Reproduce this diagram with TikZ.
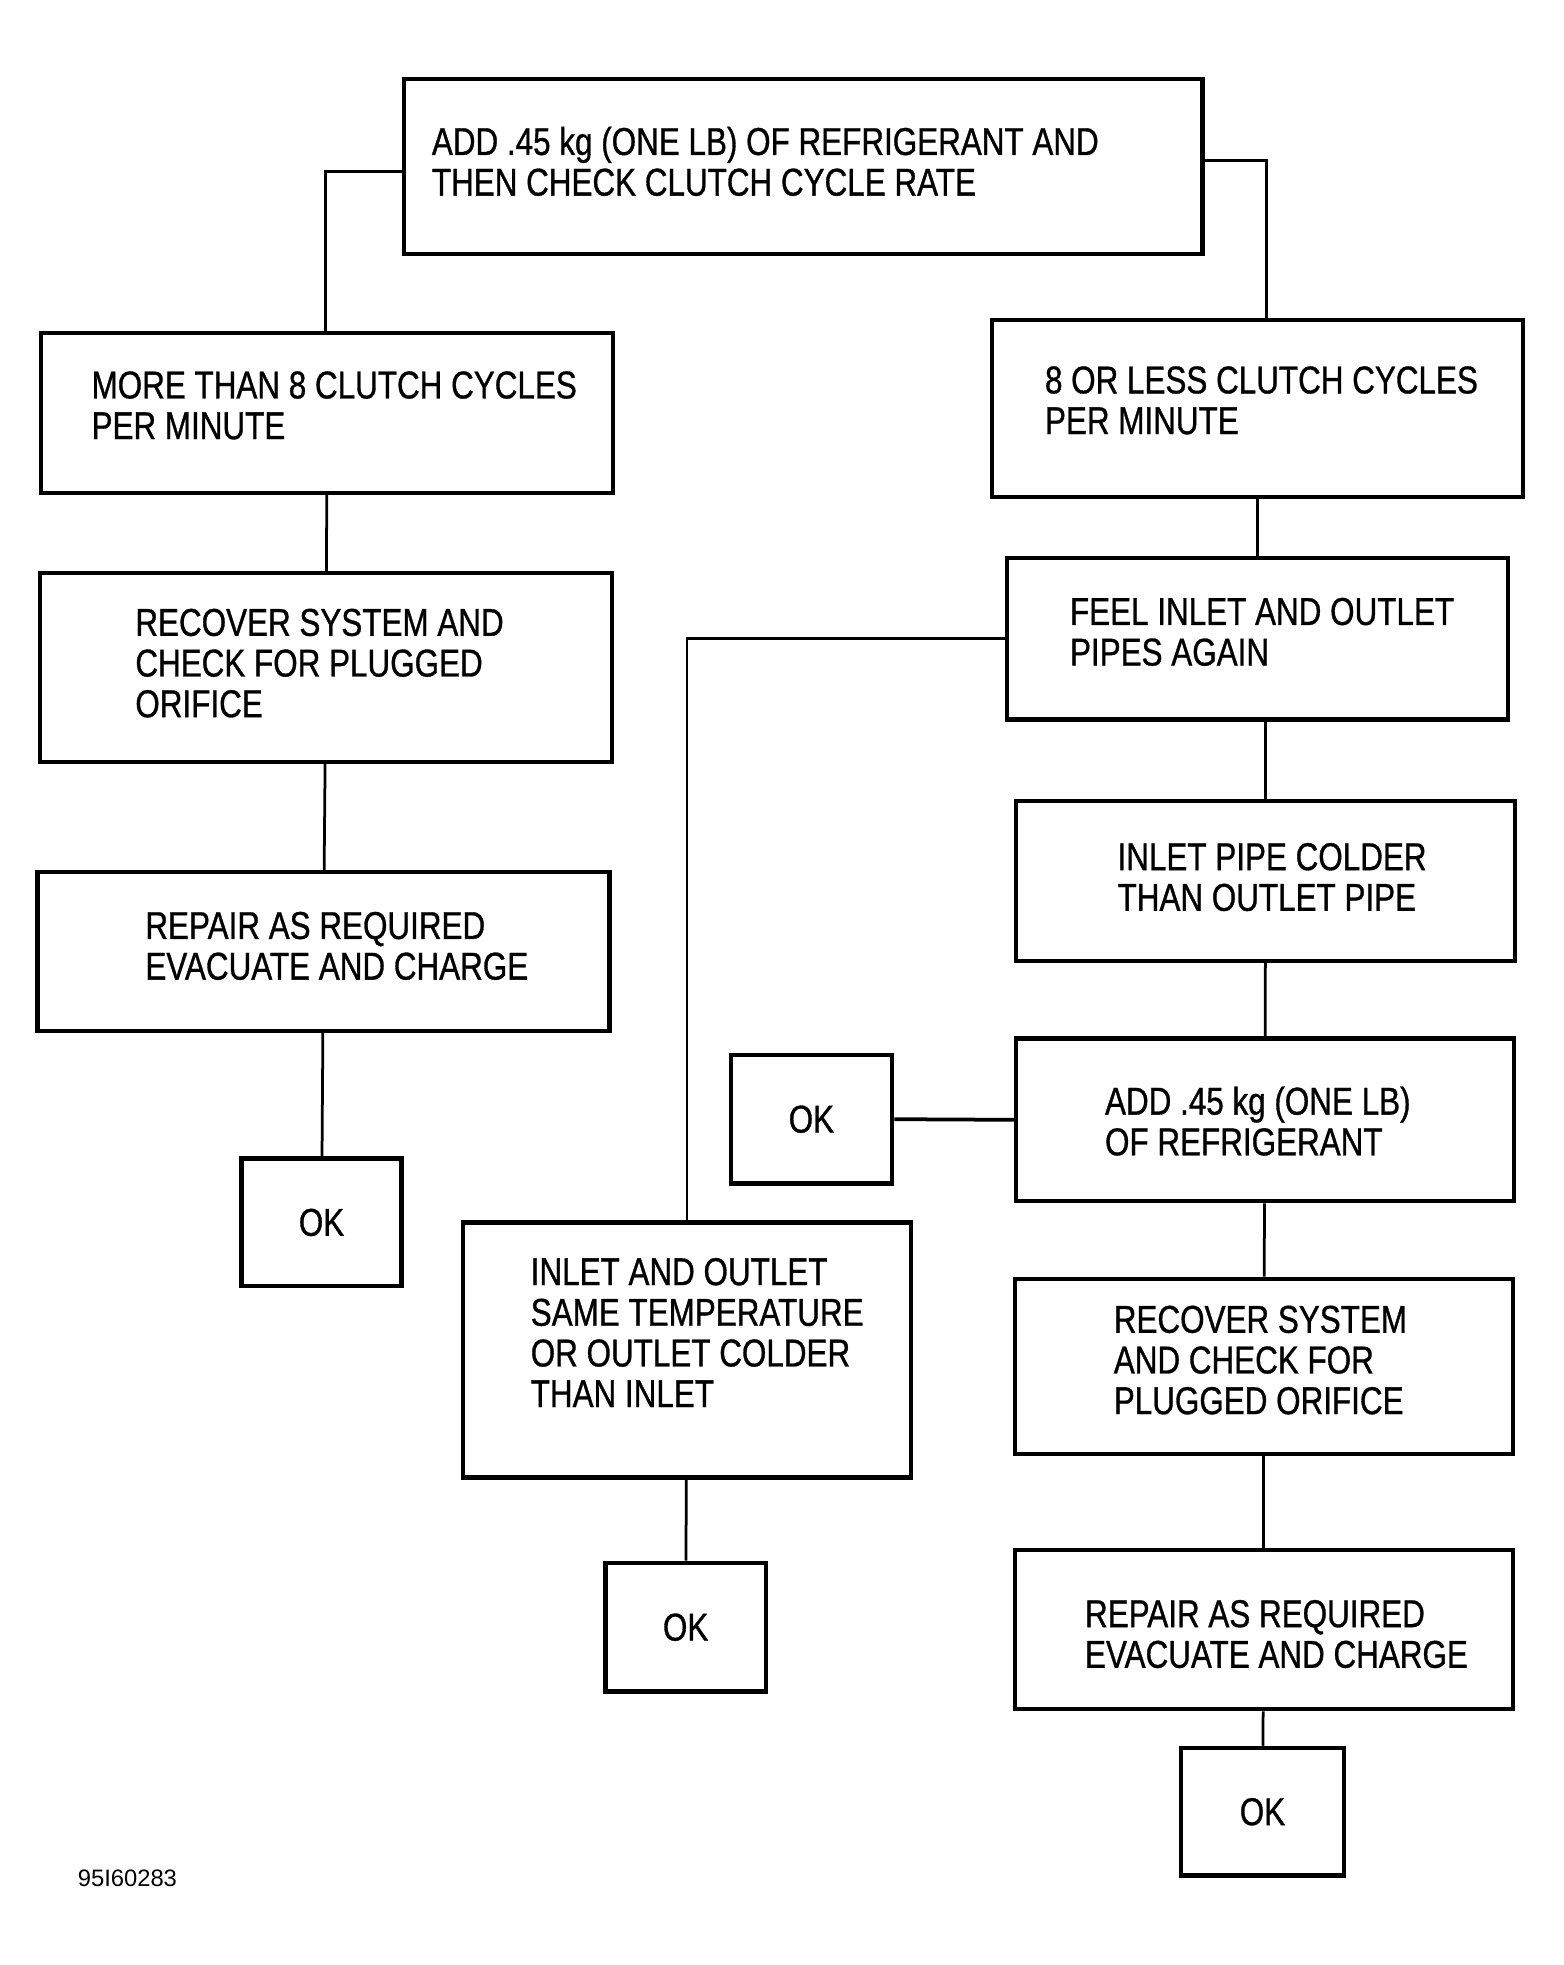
\documentclass[tikz,border=0pt]{standalone}
\usepackage{fontspec}
\setmainfont{Liberation Sans}[FakeStretch=0.81, FakeBold=0.8]
\newfontfamily\plainfont{Liberation Sans}
\usetikzlibrary{positioning}

\begin{document}
\begin{tikzpicture}[x=1pt, y=-1pt, font=\fontsize{31}{32.5}\selectfont,
    box/.style={draw, line width=3.5pt, inner sep=0pt},
    txt/.style={anchor=west, align=left, inner sep=0pt},
    link/.style={line width=2.2pt}]
    \useasboundingbox (0,0) rectangle (1250,1570.5);

    % left branch
    \node[box, minimum width=638pt, minimum height=140pt] (top) at (642,133) {};
    \node[txt] (topText) at (345,129) {ADD .45 kg (ONE LB) OF REFRIGERANT AND\\THEN CHECK CLUTCH CYCLE RATE};
    \node[box, minimum width=457pt, minimum height=128pt] (more) at (261.5,330) {};
    \node[txt] (moreText) at (73,324) {MORE THAN 8 CLUTCH CYCLES\\PER MINUTE};
    \node[box, minimum width=457pt, minimum height=151pt] (recover) at (260.5,533.5) {};
    \node[txt] (recoverText) at (108,530) {RECOVER SYSTEM AND\\CHECK FOR PLUGGED\\ORIFICE};
    \node[box, minimum width=457pt, minimum height=127pt] (repair) at (258.5,760.5) {};
    \node[txt] (repairText) at (116,756) {REPAIR AS REQUIRED\\EVACUATE AND CHARGE};
    \node[box, minimum width=128pt, minimum height=102pt] (okLeft) at (257,977) {OK};

    % right branch
    \node[box, minimum width=424pt, minimum height=141pt] (less) at (1005,326.5) {};
    \node[txt] (lessText) at (835,320) {8 OR LESS CLUTCH CYCLES\\PER MINUTE};
    \node[box, minimum width=400pt, minimum height=129pt] (feel) at (1005,510.5) {};
    \node[txt] (feelText) at (855,505) {FEEL INLET AND OUTLET\\PIPES AGAIN};
    \node[box, minimum width=399pt, minimum height=128pt] (colder) at (1011.5,704) {};
    \node[txt] (colderText) at (893,701) {INLET PIPE COLDER\\THAN OUTLET PIPE};
    \node[box, minimum width=398pt, minimum height=130pt] (addMore) at (1011,895) {};
    \node[txt] (addMoreText) at (883,896) {ADD .45 kg (ONE LB)\\OF REFRIGERANT};
    \node[box, minimum width=129pt, minimum height=103pt] (okMid) at (648.5,894.5) {OK};
    \node[box, minimum width=398pt, minimum height=140pt] (recoverR) at (1010,1092) {};
    \node[txt] (recoverRText) at (890,1087) {RECOVER SYSTEM\\AND CHECK FOR\\PLUGGED ORIFICE};
    \node[box, minimum width=398pt, minimum height=127pt] (repairR) at (1010,1302.5) {};
    \node[txt] (repairRText) at (867,1306) {REPAIR AS REQUIRED\\EVACUATE AND CHARGE};
    \node[box, minimum width=130pt, minimum height=102pt] (okRight) at (1009,1448) {OK};

    % middle branch
    \node[box, minimum width=358pt, minimum height=204pt] (same) at (549,1079) {};
    \node[txt] (sameText) at (424,1065) {INLET AND OUTLET\\SAME TEMPERATURE\\OR OUTLET COLDER\\THAN INLET};
    \node[box, minimum width=128pt, minimum height=103pt] (okSame) at (548,1300.5) {OK};

    \node[txt, font=\plainfont\fontsize{19}{20}\selectfont] (figId) at (62,1501) {95I60283};

    \draw[link] ([yshift=-4pt]top.west) -| ([xshift=-1.5pt]more.north);
    \draw[link] ([yshift=5pt]top.east) -| ([xshift=7pt]less.north);
    \draw[link] (feel.west) -| (same.north);
    \draw[link] (colder.north |- feel.south) -- (colder.north);
    \draw[link, line width=3pt] (addMore.west) -- (okMid.east);
    \path[link]
        (more) edge (recover)
        (recover) edge (repair)
        (repair) edge (okLeft)
        (less) edge (feel)
        (colder) edge (addMore)
        (addMore) edge (recoverR)
        (recoverR) edge (repairR)
        (repairR) edge (okRight)
        (same) edge (okSame);
\end{tikzpicture}
\end{document}
